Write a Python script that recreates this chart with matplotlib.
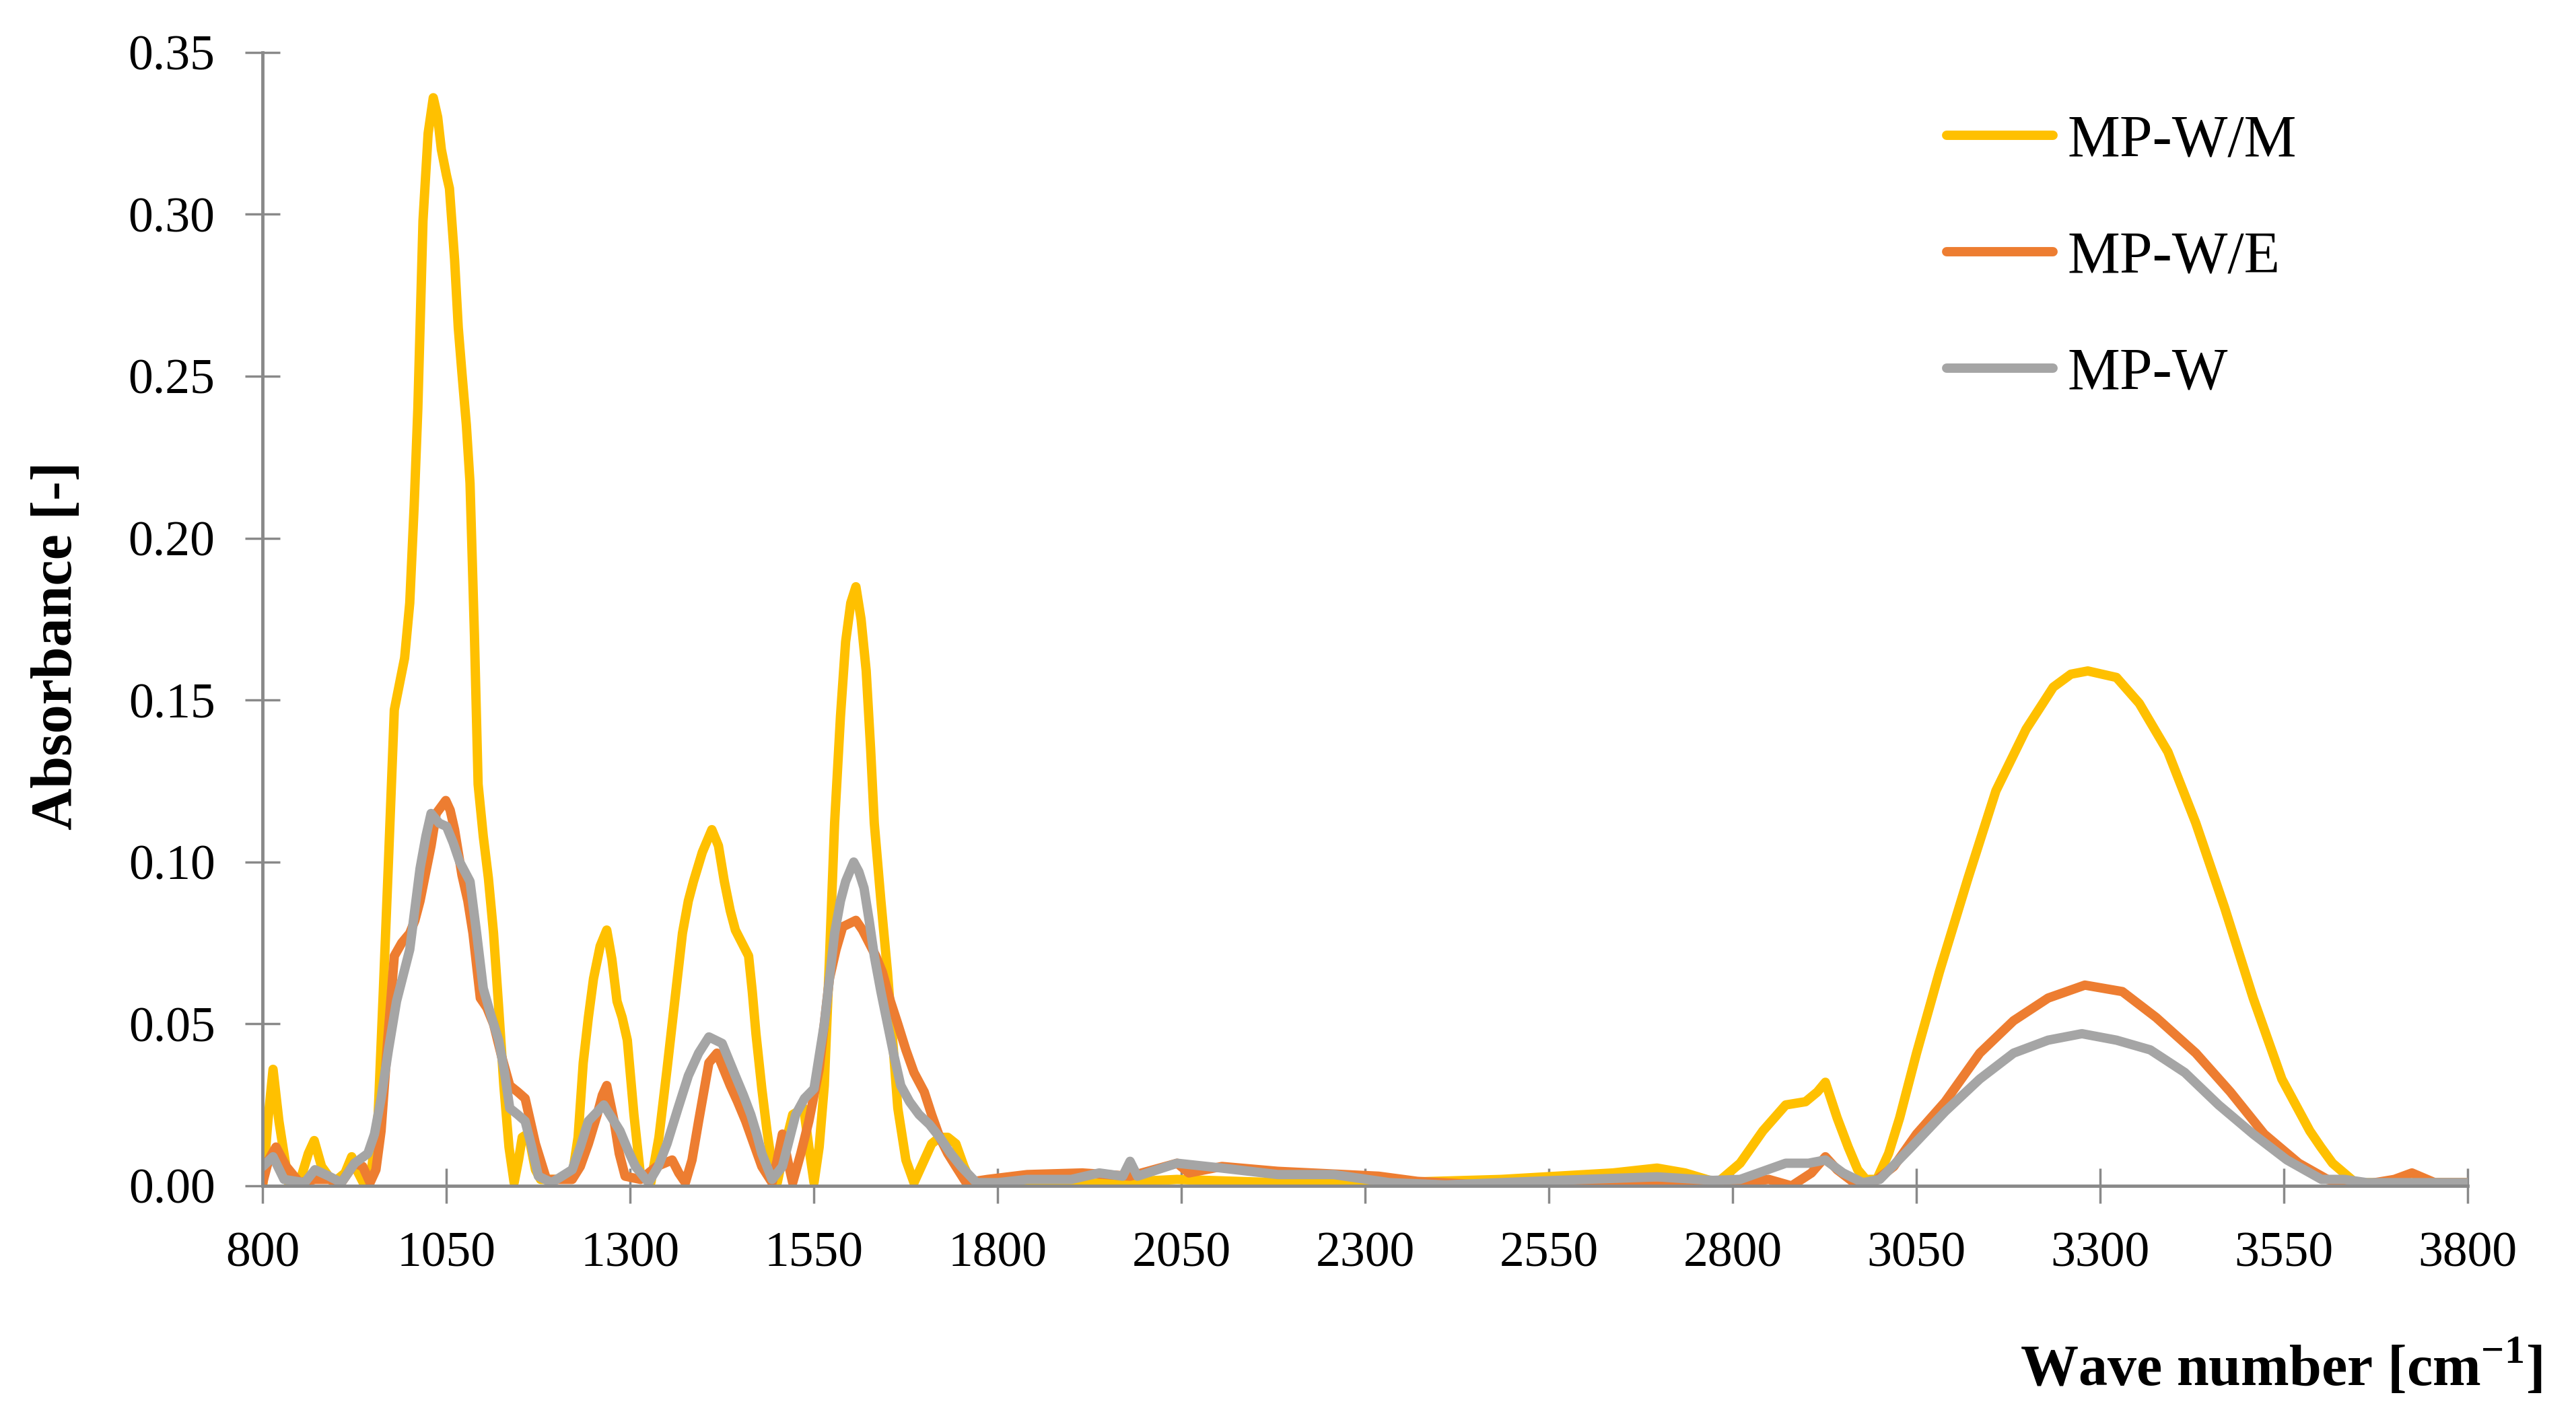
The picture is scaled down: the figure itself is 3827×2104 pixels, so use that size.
# -*- coding: utf-8 -*-
"""
FTIR absorbance spectra of the MP-W samples (MP-W/M, MP-W/E, MP-W)
plotted against wave number.
"""
from matplotlib import pyplot as plt

# MP-W/M spectrum
wn_wm = [800, 807, 814, 822, 835, 850, 862, 870, 880, 896, 912, 921, 930, 939, 948,
         957, 964, 971, 979, 986, 993, 1000, 1006, 1011, 1018, 1025, 1032, 1038, 1043,
         1050, 1054, 1061, 1066, 1071, 1077, 1082, 1088, 1093, 1100, 1107, 1114, 1121,
         1128, 1135, 1142, 1148, 1153, 1160, 1164, 1171, 1178, 1200, 1221, 1229, 1236,
         1243, 1250, 1259, 1268, 1275, 1282, 1289, 1296, 1305, 1314, 1328, 1339, 1350,
         1361, 1371, 1379, 1386, 1398, 1411, 1420, 1428, 1436, 1443, 1452, 1461, 1466,
         1471, 1479, 1486, 1493, 1500, 1510, 1521, 1536, 1543, 1550, 1557, 1564, 1571,
         1578, 1586, 1593, 1600, 1607, 1614, 1621, 1627, 1632, 1641, 1650, 1657, 1664,
         1675, 1686, 1700, 1710, 1721, 1732, 1743, 1754, 1764, 1800, 1840, 1953, 2044,
         2181, 2333, 2485, 2561, 2637, 2697, 2735, 2779, 2810, 2841, 2872, 2899, 2915,
         2926, 2942, 2957, 2970, 2981, 2996, 3012, 3027, 3050, 3081, 3120, 3158, 3199,
         3236, 3260, 3283, 3322, 3353, 3392, 3430, 3469, 3508, 3547, 3585, 3600, 3616,
         3647, 3700, 3800]
abs_wm = [0.000, 0.020, 0.036, 0.020, 0.001, 0.001, 0.010, 0.014, 0.006, 0.001, 0.004,
          0.009, 0.004, 0.000, 0.005, 0.022, 0.060, 0.100, 0.147, 0.155, 0.163, 0.180,
          0.210, 0.240, 0.298, 0.325, 0.336, 0.330, 0.320, 0.312, 0.308, 0.286, 0.265,
          0.251, 0.235, 0.217, 0.170, 0.124, 0.108, 0.095, 0.078, 0.055, 0.031, 0.012,
          0.001, 0.008, 0.015, 0.016, 0.013, 0.005, 0.002, 0.002, 0.003, 0.015, 0.038,
          0.052, 0.064, 0.074, 0.079, 0.070, 0.057, 0.052, 0.045, 0.022, 0.003, 0.001,
          0.015, 0.036, 0.058, 0.078, 0.088, 0.094, 0.103, 0.110, 0.105, 0.094, 0.085,
          0.079, 0.075, 0.071, 0.060, 0.047, 0.030, 0.017, 0.006, 0.001, 0.012, 0.022,
          0.024, 0.012, 0.001, 0.012, 0.031, 0.070, 0.112, 0.145, 0.168, 0.180, 0.185,
          0.175, 0.159, 0.135, 0.112, 0.088, 0.066, 0.045, 0.024, 0.008, 0.001, 0.008,
          0.013, 0.015, 0.015, 0.013, 0.006, 0.001, 0.000, 0.000, 0.001, 0.002, 0.001,
          0.001, 0.002, 0.003, 0.004, 0.0055, 0.004, 0.001, 0.007, 0.017, 0.025, 0.026,
          0.029, 0.032, 0.021, 0.012, 0.005, 0.002, 0.002, 0.010, 0.021, 0.041, 0.066,
          0.095, 0.122, 0.141, 0.154, 0.158, 0.159, 0.157, 0.149, 0.134, 0.112, 0.086,
          0.058, 0.033, 0.017, 0.012, 0.007, 0.001, 0.001, 0.001]

# MP-W/E spectrum
wn_we = [800, 808, 818, 825, 832, 850, 871, 890, 907, 925, 936, 946, 954, 961, 970,
         979, 989, 1000, 1007, 1014, 1021, 1029, 1036, 1049, 1055, 1061, 1071, 1079,
         1086, 1091, 1096, 1105, 1114, 1125, 1136, 1147, 1157, 1164, 1171, 1186, 1221,
         1232, 1243, 1255, 1262, 1268, 1278, 1285, 1293, 1314, 1336, 1357, 1366, 1375,
         1384, 1393, 1407, 1418, 1427, 1436, 1446, 1457, 1468, 1479, 1493, 1500, 1507,
         1514, 1521, 1532, 1543, 1557, 1564, 1571, 1580, 1589, 1607, 1616, 1625, 1634,
         1643, 1654, 1664, 1675, 1686, 1700, 1710, 1721, 1732, 1743, 1757, 1786, 1840,
         1915, 1980, 2044, 2060, 2105, 2181, 2318, 2371, 2485, 2637, 2789, 2810, 2849,
         2880, 2907, 2926, 2942, 2965, 2985, 3019, 3050, 3089, 3136, 3182, 3229, 3279,
         3330, 3376, 3430, 3477, 3523, 3570, 3609, 3647, 3700, 3724, 3755, 3800]
abs_we = [0.001, 0.008, 0.012, 0.009, 0.006, 0.001, 0.002, 0.002, 0.001, 0.007, 0.006,
          0.001, 0.005, 0.017, 0.045, 0.071, 0.075, 0.078, 0.082, 0.088, 0.096, 0.105,
          0.115, 0.119, 0.116, 0.110, 0.096, 0.088, 0.078, 0.068, 0.058, 0.055, 0.050,
          0.040, 0.031, 0.029, 0.027, 0.020, 0.013, 0.002, 0.002, 0.006, 0.013, 0.022,
          0.028, 0.031, 0.020, 0.010, 0.003, 0.002, 0.006, 0.008, 0.004, 0.001, 0.008,
          0.020, 0.038, 0.041, 0.036, 0.031, 0.026, 0.020, 0.013, 0.006, 0.001, 0.008,
          0.016, 0.008, 0.001, 0.010, 0.020, 0.036, 0.050, 0.064, 0.073, 0.080, 0.082,
          0.079, 0.075, 0.071, 0.066, 0.057, 0.050, 0.042, 0.035, 0.029, 0.022, 0.015,
          0.010, 0.006, 0.001, 0.002, 0.0035, 0.004, 0.003, 0.007, 0.004, 0.006, 0.0045,
          0.003, 0.0014, 0.000, 0.000, 0.000, 0.001, 0.002, 0.000, 0.004, 0.009, 0.005,
          0.001, 0.000, 0.006, 0.016, 0.026, 0.041, 0.051, 0.058, 0.062, 0.060, 0.052,
          0.041, 0.029, 0.016, 0.007, 0.002, 0.000, 0.002, 0.004, 0.001, 0.001]

# MP-W spectrum
wn_w = [800, 814, 829, 857, 871, 890, 907, 925, 943, 952, 961, 971, 982, 1000, 1014,
        1022, 1029, 1040, 1050, 1059, 1068, 1082, 1091, 1100, 1110, 1121, 1129, 1136,
        1147, 1157, 1166, 1175, 1193, 1221, 1232, 1243, 1264, 1275, 1286, 1297, 1307,
        1325, 1338, 1350, 1365, 1379, 1393, 1407, 1425, 1434, 1443, 1454, 1464, 1472,
        1479, 1493, 1507, 1516, 1525, 1537, 1550, 1557, 1564, 1571, 1578, 1586, 1593,
        1604, 1611, 1618, 1625, 1632, 1641, 1650, 1659, 1668, 1680, 1693, 1707, 1721,
        1736, 1750, 1771, 1800, 1840, 1900, 1938, 1970, 1980, 1990, 2044, 2105, 2181,
        2257, 2333, 2409, 2561, 2697, 2773, 2810, 2872, 2903, 2926, 2950, 2977, 3000,
        3043, 3089, 3136, 3182, 3229, 3275, 3322, 3368, 3415, 3461, 3508, 3554, 3601,
        3632, 3663, 3740, 3800]
abs_w = [0.006, 0.009, 0.002, 0.001, 0.005, 0.003, 0.001, 0.007, 0.010, 0.016, 0.027,
         0.042, 0.057, 0.073, 0.098, 0.108, 0.115, 0.112, 0.111, 0.106, 0.100, 0.094,
         0.078, 0.061, 0.053, 0.045, 0.035, 0.024, 0.022, 0.020, 0.012, 0.003, 0.001,
         0.005, 0.012, 0.020, 0.025, 0.021, 0.017, 0.011, 0.006, 0.001, 0.006, 0.013,
         0.024, 0.034, 0.041, 0.046, 0.044, 0.039, 0.034, 0.028, 0.022, 0.016, 0.010,
         0.002, 0.006, 0.014, 0.022, 0.027, 0.030, 0.040, 0.050, 0.064, 0.078, 0.088,
         0.094, 0.100, 0.097, 0.092, 0.082, 0.071, 0.060, 0.050, 0.040, 0.031, 0.026,
         0.022, 0.019, 0.015, 0.010, 0.006, 0.001, 0.001, 0.002, 0.002, 0.004, 0.003,
         0.0076, 0.003, 0.007, 0.0055, 0.0035, 0.0035, 0.001, 0.0003, 0.0017, 0.0028,
         0.0017, 0.002, 0.007, 0.007, 0.008, 0.004, 0.001, 0.002, 0.012, 0.023, 0.033,
         0.041, 0.045, 0.047, 0.045, 0.042, 0.035, 0.025, 0.016, 0.008, 0.002, 0.002,
         0.001, 0.001, 0.001]

series_labels = ["MP-W/M", "MP-W/E", "MP-W"]
x_ticks = [800, 1050, 1300, 1550, 1800, 2050, 2300, 2550, 2800, 3050, 3300, 3550, 3800]
y_ticks = [0.00, 0.05, 0.10, 0.15, 0.20, 0.25, 0.30, 0.35]


def main():

    plt.rcParams['font.family'] = ['Liberation Serif', 'DejaVu Serif']

    fig = plt.figure(figsize=(38.27, 21.04), dpi=100)
    ax = fig.add_axes([0.102, 0.1625, 0.856, 0.8005])

    # yellow first, grey last so grey ends up on top
    ax.plot(wn_wm, abs_wm, color='#FFC000', lw=10, solid_capstyle='round',
            solid_joinstyle='round', label=series_labels[0])
    ax.plot(wn_we, abs_we, color='#ED7D31', lw=10, solid_capstyle='round',
            solid_joinstyle='round', label=series_labels[1])
    ax.plot(wn_w, abs_w, color='#A5A5A5', lw=10, solid_capstyle='round',
            solid_joinstyle='round', label=series_labels[2])

    ax.set_xlim(800, 3800)
    ax.set_ylim(0, 0.35)
    ax.set_xticks(x_ticks)
    ax.set_yticks(y_ticks)
    ax.set_yticklabels(["%.2f" % v for v in y_ticks])

    # axis look: grey left/bottom lines, ticks crossing the axis
    for side in ['top', 'right']:
        ax.spines[side].set_visible(False)
    for side in ['left', 'bottom']:
        ax.spines[side].set_color('#898989')
        ax.spines[side].set_linewidth(3.5)
    ax.tick_params(axis='both', direction='inout', length=38, width=2.5,
                   color='#898989', labelsize=53)
    ax.tick_params(axis='x', pad=30)
    ax.tick_params(axis='y', pad=32)

    # axis titles placed on the figure like in the original
    fig.text(0.987, 0.0214, "Wave number [cm$^{\\mathregular{-1}}$]", ha='right',
             va='baseline', fontsize=62, fontweight='bold')
    fig.text(0.0223, 0.544, "Absorbance [-]", rotation=90, ha='center',
             va='center', fontsize=62, fontweight='bold')

    fig.legend(loc='center left', bbox_to_anchor=(0.7557, 0.818),
               bbox_transform=fig.transFigure, frameon=False, fontsize=63,
               handlelength=1.8, handletextpad=0.25, labelspacing=1.05,
               borderpad=0, borderaxespad=0)

    fig.savefig("out.png", dpi=100)


main()
